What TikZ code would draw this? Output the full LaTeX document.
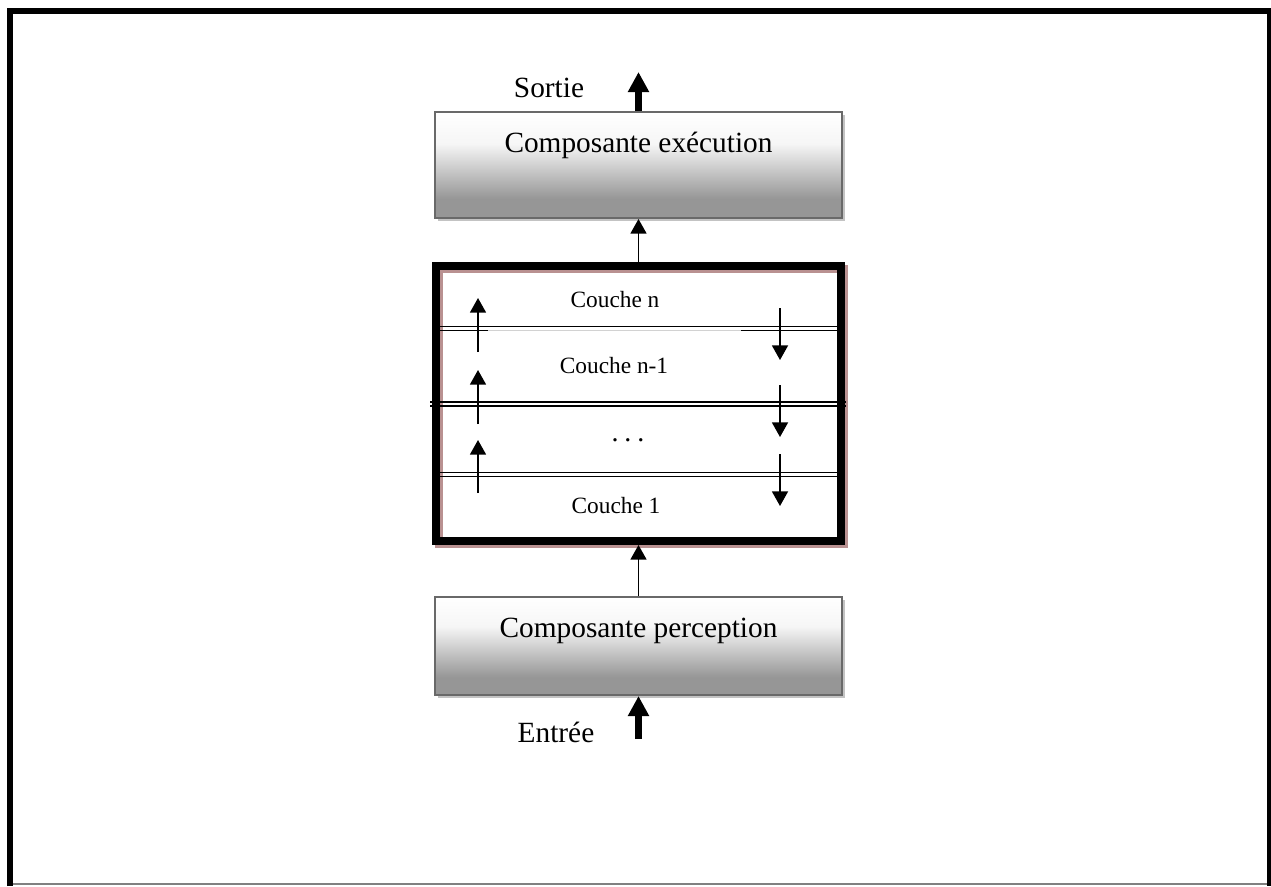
\documentclass[tikz,border=0pt]{standalone}
\usepackage{fontspec}
\setmainfont{Liberation Serif}
\usetikzlibrary{arrows.meta,fit,shadows}

\definecolor{boxedge}{RGB}{105,105,105}
\definecolor{boxshadow}{RGB}{195,195,195}
\definecolor{frameshadow}{RGB}{185,145,145}
\definecolor{shadeA}{RGB}{150,150,150}
\definecolor{shadeB}{RGB}{246,246,246}

% grey at the bottom, fading to white in the upper third
\pgfdeclareverticalshading{boxshade}{100bp}{
  color(0bp)=(shadeA); color(25bp)=(shadeA); color(34bp)=(shadeA);
  color(60bp)=(shadeB); color(75bp)=(white); color(100bp)=(white)}

\tikzset{
  component/.style={draw=boxedge, line width=1.5pt, inner sep=0pt,
    shading=boxshade,
    drop shadow={shadow xshift=2.4pt, shadow yshift=-2.4pt, fill=boxshadow, opacity=1}},
  bigtext/.style={font=\fontsize{22}{26}\selectfont, anchor=base, inner sep=0pt},
  layertext/.style={font=\fontsize{17.5}{21}\selectfont, anchor=base, inner sep=0pt},
  thinarrow/.style={line width=1.3pt, -{Triangle[width=12pt,length=11pt]}},
  thickarrow/.style={line width=5pt, -{Triangle[width=15pt,length=15pt]}},
  layerline/.style={line width=1.2pt},
}

\begin{document}
\begin{tikzpicture}[x=0.75pt,y=-0.75pt]
  \useasboundingbox (0,0) rectangle (1271,886);

  % page frame
  \draw[line width=4.6pt] (10.4,886) -- (10.4,10.8) -- (1271,10.8);
  \draw[line width=3.6pt] (1269.4,8.5) -- (1269.4,886);
  \draw[gray, line width=1.2pt] (13,884) -- (1267,884);

  % execution component
  \node[component, fit={(435,112) (842,218)}] (exec) {};
  \node[bigtext] (exectext) at (638.5,152) {Composante exécution};

  % perception component
  \node[component, fit={(435,597) (842,695)}] (perc) {};
  \node[bigtext] (perctext) at (638.5,637) {Composante perception};

  % stack of layers
  \draw[frameshadow, line width=6pt] (439,269) rectangle (844,544);
  \node[draw, line width=6pt, inner sep=0pt, fit={(436,266) (841,541)}] (layers) {};

  % layer separators (double rules)
  \draw[layerline] (440,326.6) -- (837,326.6);
  \draw[layerline] (440,330.6) -- (488,330.6);
  \draw[layerline, gray!35] (488,330.6) -- (741,330.6);
  \draw[layerline] (741,330.6) -- (837,330.6);
  \draw[layerline] (430,402.1) -- (846,402.1);
  \draw[layerline] (430,406.1) -- (846,406.1);
  \draw[layerline] (440,472.6) -- (837,472.6);
  \draw[layerline] (440,476.6) -- (837,476.6);

  \node[layertext] (cn)  at (615,307) {Couche n};
  \node[layertext] (cn1) at (614,373) {Couche n-1};
  \node[layertext, font=\fontsize{21}{24}\selectfont] (cdots) at (628,441) {.\hspace{4.5pt}.\hspace{4.5pt}.};
  \node[layertext] (c1)  at (616,513) {Couche 1};

  % upward flow on the left
  \coordinate (u1a) at (478,352); \coordinate (u1b) at (478,298);
  \coordinate (u2a) at (478,424); \coordinate (u2b) at (478,370);
  \coordinate (u3a) at (478,493); \coordinate (u3b) at (478,440);
  \draw[thinarrow] (u1a) -- (u1b);
  \draw[thinarrow] (u2a) -- (u2b);
  \draw[thinarrow] (u3a) -- (u3b);

  % downward flow on the right
  \coordinate (d1a) at (780,308); \coordinate (d1b) at (780,360);
  \coordinate (d2a) at (780,385); \coordinate (d2b) at (780,437);
  \coordinate (d3a) at (780,454); \coordinate (d3b) at (780,506);
  \draw[thinarrow] (d1a) -- (d1b);
  \draw[thinarrow] (d2a) -- (d2b);
  \draw[thinarrow] (d3a) -- (d3b);

  % connections between the blocks
  \draw[thinarrow] (layers.north -| exec.south) -- (exec.south);
  \draw[thinarrow] (perc.north) -- (perc.north |- layers.south);

  % input and output
  \coordinate (out) at (638.5,72);
  \coordinate (in) at (638.5,739);
  \draw[thickarrow] (exec.north) -- (out);
  \draw[thickarrow] (in) -- (perc.south);
  \node[bigtext] (sortie) at (549,97) {Sortie};
  \node[bigtext] (entree) at (556,742) {Entrée};
\end{tikzpicture}
\end{document}
